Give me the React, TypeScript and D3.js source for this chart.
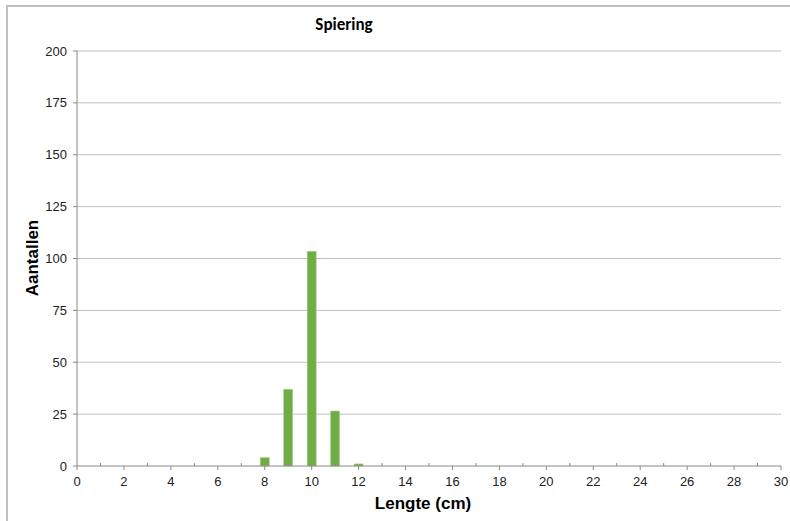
import React from "react";
import * as d3 from "d3";

const lengths = [8, 9, 10, 11, 12];
const counts = [4, 37, 103.5, 26.5, 1];
const yTicks = [0, 25, 50, 75, 100, 125, 150, 175, 200];
const xMajorTicks = d3.range(0, 31, 2);
const xMinorTicks = d3.range(1, 30, 2);
const title = "Spiering";
const xLabel = "Lengte (cm)";
const yLabel = "Aantallen";

export default function App() {
  const W = 790, H = 521;
  const left = 77, right = 781, top = 51, bottom = 466;
  const x = d3.scaleLinear().domain([0, 30]).range([left, right]);
  const y = d3.scaleLinear().domain([0, 200]).range([bottom, top]);
  const barW = 9;
  const font = "Arial, 'Liberation Sans', sans-serif";
  return (
    <svg width={W} height={H} style={{ position: "absolute", left: 0, top: 0 }}>
      <rect x={0} y={0} width={W} height={H} fill="#fff" />
      <rect x={7} y={6} width={820} height={540} fill="none" stroke="#bfbfbf" strokeWidth={2} />
      <text x={344} y={30} textAnchor="middle" fontFamily="Carlito, Calibri, 'Open Sans', sans-serif" fontWeight="bold" fontSize={17} fill="#000">{title}</text>
      {yTicks.map((t) => (
        <g key={t}>
          {t > 0 && <line x1={left} x2={right} y1={y(t)} y2={y(t)} stroke="#c0c0c0" strokeWidth={1} />}
          <line x1={left - 4} x2={left} y1={y(t)} y2={y(t)} stroke="#888" strokeWidth={1} />
          <text x={left - 10} y={y(t) + 4.5} textAnchor="end" fontFamily={font} fontSize={13} fill="#222">{t}</text>
        </g>
      ))}
      <line x1={left} x2={left} y1={top} y2={bottom} stroke="#888" strokeWidth={1} />
      {lengths.map((l, i) => (
        <rect key={l} x={x(l) - barW / 2} y={y(counts[i])} width={barW} height={bottom - y(counts[i])} fill="#70ad47" stroke="#a9d18e" strokeWidth={0.6} />
      ))}
      <line x1={left} x2={right} y1={bottom} y2={bottom} stroke="#888" strokeWidth={1} />
      {xMajorTicks.map((t) => (
        <g key={t}>
          <line x1={x(t)} x2={x(t)} y1={bottom} y2={bottom + 4} stroke="#888" strokeWidth={1} />
          <text x={x(t)} y={bottom + 20} textAnchor="middle" fontFamily={font} fontSize={13} fill="#222">{t}</text>
        </g>
      ))}
      {xMinorTicks.map((t) => (
        <line key={t} x1={x(t)} x2={x(t)} y1={bottom - 3} y2={bottom} stroke="#888" strokeWidth={1} />
      ))}
      <text x={423} y={509} textAnchor="middle" fontFamily={font} fontWeight="bold" fontSize={17} fill="#000">{xLabel}</text>
      <text transform={`translate(38,258) rotate(-90)`} textAnchor="middle" fontFamily={font} fontWeight="bold" fontSize={17} fill="#000">{yLabel}</text>
    </svg>
  );
}
